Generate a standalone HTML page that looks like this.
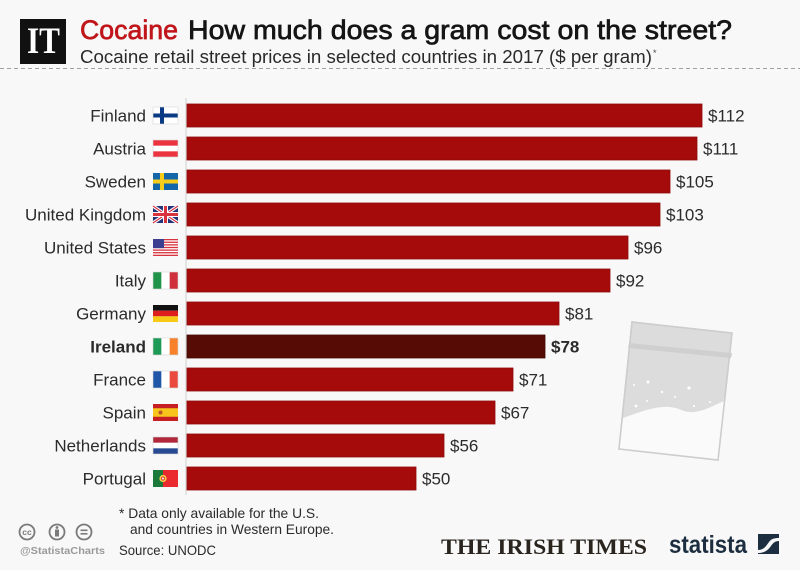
<!DOCTYPE html>
<html><head><meta charset="utf-8"><style>
html,body{margin:0;padding:0;background:#f8f8f8;}
svg{display:block;}
text{font-family:"Liberation Sans",sans-serif;}
.lbl{font-size:17px;fill:#2b2b2b;text-anchor:end;}
.val{font-size:17px;fill:#2b2b2b;}
.bar{fill:#a50b0b;stroke:#8e0909;stroke-width:0.8;}
.fb{fill:none;stroke:#d8d8d8;stroke-width:0.6;}
</style></head><body>
<svg width="800" height="570" viewBox="0 0 800 570" xmlns="http://www.w3.org/2000/svg">
<rect width="800" height="570" fill="#f8f8f8"/>
<!-- IT logo -->
<rect x="20" y="19" width="46" height="45" fill="#111"/>
<text x="27" y="53" font-weight="bold" font-size="37" fill="#fff" textLength="33" lengthAdjust="spacingAndGlyphs" style="font-family:'Liberation Serif',serif">IT</text>
<!-- Title -->
<text x="80" y="39" font-size="27" fill="#c0161b" stroke="#c0161b" stroke-width="0.7" textLength="98" lengthAdjust="spacingAndGlyphs">Cocaine</text>
<text x="188" y="39" font-size="27" fill="#151515" stroke="#151515" stroke-width="0.7" textLength="544" lengthAdjust="spacingAndGlyphs">How much does a gram cost on the street?</text>
<text x="80" y="63" font-size="18.5" fill="#2a2a2a" textLength="572" lengthAdjust="spacingAndGlyphs">Cocaine retail street prices in selected countries in 2017 ($ per gram)</text>
<text x="653" y="56" font-size="9" fill="#444">*</text>
<line x1="0" y1="68.5" x2="800" y2="68.5" stroke="#a0a0a0" stroke-width="1" stroke-dasharray="4,3"/>
<!-- axis -->
<line x1="186" y1="98" x2="186" y2="495" stroke="#cfcfcf" stroke-width="1"/>

<!-- Finland -->
<g transform="translate(0,115.5)">
<text class="lbl" x="146" y="6">Finland</text>
<g transform="translate(153,-8.5)"><rect width="25" height="17" fill="#fff"/><rect x="7" width="4" height="17" fill="#0a3a84"/><rect y="6.5" width="25" height="4" fill="#0a3a84"/><rect class="fb" width="25" height="17"/></g>
<rect class="bar" x="187" y="-11.5" width="515" height="23"/>
<text class="val" x="708" y="6">$112</text>
</g>
<!-- Austria -->
<g transform="translate(0,148.5)">
<text class="lbl" x="146" y="6">Austria</text>
<g transform="translate(153,-8.5)"><rect width="25" height="17" fill="#fff"/><rect width="25" height="5.67" fill="#ec3340"/><rect y="11.33" width="25" height="5.67" fill="#ec3340"/><rect class="fb" width="25" height="17"/></g>
<rect class="bar" x="187" y="-11.5" width="510" height="23"/>
<text class="val" x="703" y="6">$111</text>
</g>
<!-- Sweden -->
<g transform="translate(0,181.5)">
<text class="lbl" x="146" y="6">Sweden</text>
<g transform="translate(153,-8.5)"><rect width="25" height="17" fill="#1566a8"/><rect x="7" width="4" height="17" fill="#f8cd1a"/><rect y="6.5" width="25" height="4" fill="#f8cd1a"/></g>
<rect class="bar" x="187" y="-11.5" width="483" height="23"/>
<text class="val" x="676" y="6">$105</text>
</g>
<!-- UK -->
<g transform="translate(0,214.5)">
<text class="lbl" x="146" y="6">United Kingdom</text>
<g transform="translate(153,-8.5)"><rect width="25" height="17" fill="#23337a"/>
<line x1="0" y1="0" x2="25" y2="17" stroke="#fff" stroke-width="3.4"/><line x1="25" y1="0" x2="0" y2="17" stroke="#fff" stroke-width="3.4"/>
<line x1="0" y1="0" x2="25" y2="17" stroke="#d9333f" stroke-width="1.1"/><line x1="25" y1="0" x2="0" y2="17" stroke="#d9333f" stroke-width="1.1"/>
<rect x="10" width="5" height="17" fill="#fff"/><rect y="6" width="25" height="5" fill="#fff"/>
<rect x="11" width="3" height="17" fill="#d9333f"/><rect y="7" width="25" height="3" fill="#d9333f"/></g>
<rect class="bar" x="187" y="-11.5" width="473" height="23"/>
<text class="val" x="666" y="6">$103</text>
</g>
<!-- US -->
<g transform="translate(0,247.5)">
<text class="lbl" x="146" y="6">United States</text>
<g transform="translate(153,-8.5)"><rect width="25" height="17" fill="#d8323f"/>
<rect y="1.31" width="25" height="1.31" fill="#fff"/><rect y="3.92" width="25" height="1.31" fill="#fff"/><rect y="6.54" width="25" height="1.31" fill="#fff"/><rect y="9.15" width="25" height="1.31" fill="#fff"/><rect y="11.77" width="25" height="1.31" fill="#fff"/><rect y="14.38" width="25" height="1.31" fill="#fff"/>
<rect width="11" height="9.15" fill="#3c3f8f"/></g>
<rect class="bar" x="187" y="-11.5" width="441" height="23"/>
<text class="val" x="634" y="6">$96</text>
</g>
<!-- Italy -->
<g transform="translate(0,280.5)">
<text class="lbl" x="146" y="6">Italy</text>
<g transform="translate(153,-8.5)"><rect width="25" height="17" fill="#fff"/><rect width="8.33" height="17" fill="#1f9448"/><rect x="16.67" width="8.33" height="17" fill="#cf2f3a"/><rect class="fb" width="25" height="17"/></g>
<rect class="bar" x="187" y="-11.5" width="423" height="23"/>
<text class="val" x="616" y="6">$92</text>
</g>
<!-- Germany -->
<g transform="translate(0,313.5)">
<text class="lbl" x="146" y="6">Germany</text>
<g transform="translate(153,-8.5)"><rect width="25" height="5.67" fill="#111"/><rect y="5.67" width="25" height="5.67" fill="#dd1f1f"/><rect y="11.33" width="25" height="5.67" fill="#f7cb15"/></g>
<rect class="bar" x="187" y="-11.5" width="372" height="23"/>
<text class="val" x="565" y="6">$81</text>
</g>
<!-- Ireland -->
<g transform="translate(0,346.5)">
<text class="lbl" x="146" y="6" font-weight="bold" fill="#1a1a1a">Ireland</text>
<g transform="translate(153,-8.5)"><rect width="25" height="17" fill="#fff"/><rect width="8.33" height="17" fill="#1d9a56"/><rect x="16.67" width="8.33" height="17" fill="#f7822b"/><rect class="fb" width="25" height="17"/></g>
<rect x="187" y="-11.5" width="358" height="23" fill="#570b05" stroke="#420803" stroke-width="0.8"/>
<text class="val" x="551" y="6" font-weight="bold" fill="#1a1a1a">$78</text>
</g>
<!-- France -->
<g transform="translate(0,379.5)">
<text class="lbl" x="146" y="6">France</text>
<g transform="translate(153,-8.5)"><rect width="25" height="17" fill="#fff"/><rect width="8.33" height="17" fill="#1f56a8"/><rect x="16.67" width="8.33" height="17" fill="#ea4a3e"/><rect class="fb" width="25" height="17"/></g>
<rect class="bar" x="187" y="-11.5" width="326" height="23"/>
<text class="val" x="519" y="6">$71</text>
</g>
<!-- Spain -->
<g transform="translate(0,412.5)">
<text class="lbl" x="146" y="6">Spain</text>
<g transform="translate(153,-8.5)"><rect width="25" height="17" fill="#c51f24"/><rect y="4.25" width="25" height="8.5" fill="#f7c51c"/><circle cx="7.5" cy="8.5" r="2" fill="#b8562a"/></g>
<rect class="bar" x="187" y="-11.5" width="308" height="23"/>
<text class="val" x="501" y="6">$67</text>
</g>
<!-- Netherlands -->
<g transform="translate(0,445.5)">
<text class="lbl" x="146" y="6">Netherlands</text>
<g transform="translate(153,-8.5)"><rect width="25" height="17" fill="#fff"/><rect width="25" height="5.67" fill="#b0283a"/><rect y="11.33" width="25" height="5.67" fill="#284a92"/><rect class="fb" width="25" height="17"/></g>
<rect class="bar" x="187" y="-11.5" width="257" height="23"/>
<text class="val" x="450" y="6">$56</text>
</g>
<!-- Portugal -->
<g transform="translate(0,478.5)">
<text class="lbl" x="146" y="6">Portugal</text>
<g transform="translate(153,-8.5)"><rect width="25" height="17" fill="#ea2a2f"/><rect width="10" height="17" fill="#1b7a3a"/><circle cx="10" cy="8.5" r="3.6" fill="#f6d34a"/><circle cx="10" cy="8.5" r="2.1" fill="#e03a2e"/><circle cx="10" cy="8.5" r="1" fill="#fff"/></g>
<rect class="bar" x="187" y="-11.5" width="229" height="23"/>
<text class="val" x="422" y="6">$50</text>
</g>

<!-- bag illustration -->
<polygon points="632,322 732,333 718,460 619,449" fill="#dcdcdc" stroke="#cdcdcd" stroke-width="1.5"/>
<polygon points="629,343 732,353 731,358 628,348" fill="#cfcfcf"/>
<path d="M623,418 C640,412 655,406 670,407 C680,408 684,413 694,412 C705,411 714,405 724,401 L718,460 L619,449 Z" fill="#fafafa"/>
<polygon points="632,322 732,333 718,460 619,449" fill="none" stroke="#cdcdcd" stroke-width="1.5"/>
<g fill="#fff">
<circle cx="648" cy="382" r="1.5"/><circle cx="634" cy="385" r="1"/><circle cx="662" cy="392" r="1.2"/><circle cx="689" cy="388" r="1.6"/><circle cx="675" cy="397" r="1"/><circle cx="647" cy="401" r="1"/><circle cx="636" cy="406" r="1.4"/><circle cx="694" cy="406" r="1"/><circle cx="710" cy="402" r="1"/>
</g>

<!-- footer: cc icons -->
<g fill="none" stroke="#7a7a7a" stroke-width="1.8">
<circle cx="27" cy="532" r="7.5"/><circle cx="57" cy="532" r="7.5"/><circle cx="84" cy="532" r="7.5"/>
</g>
<text x="27" y="535" font-size="8.5" font-weight="bold" fill="#7a7a7a" text-anchor="middle">cc</text>
<circle cx="57" cy="527.5" r="1.4" fill="#7a7a7a"/>
<rect x="55" y="529.5" width="4" height="7" fill="#7a7a7a"/>
<rect x="80.5" y="529.5" width="7" height="1.6" fill="#7a7a7a"/><rect x="80.5" y="533" width="7" height="1.6" fill="#7a7a7a"/>
<text x="20" y="554" font-size="10.5" font-weight="bold" fill="#9a9a9a" textLength="85" lengthAdjust="spacingAndGlyphs">@StatistaCharts</text>
<text x="119" y="518" font-size="14" fill="#2b2b2b" textLength="200" lengthAdjust="spacingAndGlyphs">* Data only available for the U.S.</text>
<text x="130" y="534" font-size="14" fill="#2b2b2b" textLength="204" lengthAdjust="spacingAndGlyphs">and countries in Western Europe.</text>
<text x="119" y="555" font-size="14" fill="#2b2b2b" textLength="97" lengthAdjust="spacingAndGlyphs">Source: UNODC</text>

<!-- Irish Times -->
<text x="441" y="554" font-size="22" font-weight="bold" fill="#2a241f" textLength="206" lengthAdjust="spacingAndGlyphs" style="font-family:'Liberation Serif',serif">THE IRISH TIMES</text>
<!-- statista -->
<text x="669" y="553" font-size="25" font-weight="bold" fill="#1d2e40" textLength="78" lengthAdjust="spacingAndGlyphs">statista</text>
<rect x="758" y="534" width="21" height="20" fill="#1d2e40"/>
<path d="M758,550 C764,550 766,546 769,542 C771,539 774,538 779,538 L779,541 C775,541 773,543 771,546 C768,550 765,553 758,553 Z" fill="#f8f8f8"/>
</svg>
</body></html>
